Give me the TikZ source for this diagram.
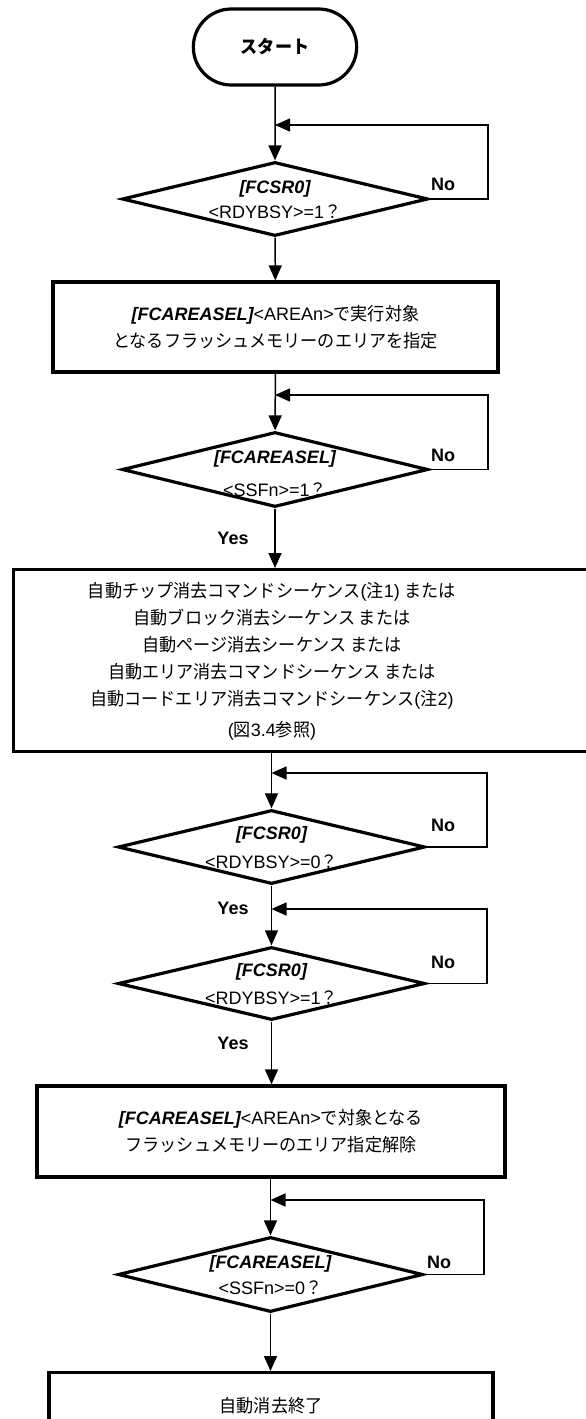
\documentclass[tikz,border=0pt]{standalone}
\usepackage{fontspec}
\setmainfont{Liberation Sans}
\newfontfamily\jp{Noto Sans CJK JP}[Scale=1.0,FakeStretch=0.95]
\usetikzlibrary{shapes.geometric,shapes.misc,arrows.meta}
\newcommand\J[1]{{\jp #1}}
\newcommand\BI[1]{{\bfseries\itshape #1}}
\newcommand\dtext[4]{\makebox[0pt]{\smash{\raisebox{\dimexpr#3-6.5pt\relax}{#1}}}\makebox[0pt]{\smash{\raisebox{\dimexpr-#4-6.5pt\relax}{#2}}}}
\begin{document}
\begin{tikzpicture}[x=1pt,y=-1pt,
  font=\fontsize{18}{22}\selectfont,
  shapeline/.style={draw, line width=3.2pt},
  term/.style={shapeline, rounded rectangle, minimum width=170pt, minimum height=76pt},
  decision/.style={shapeline, diamond, inner sep=0pt, minimum width=306pt, minimum height=74pt},
  procbox/.style={shapeline, rectangle, align=center, inner sep=0pt},
  flow/.style={line width=1.5pt, -{Triangle[length=15pt,width=13pt]}},
  lbl/.style={font=\fontsize{18}{22}\selectfont\bfseries, inner sep=0pt}
]
\useasboundingbox (0,0) rectangle (586,1419);
\clip (0,0) rectangle (586,1419);

% shapes
\node[term] (start) at (275,47) {\J{\bfseries スタート}};
\node[decision] (d1) at (275,199) {\dtext{\BI{[FCSR0]}}{<RDYBSY>=1\J{？}}{12pt}{13pt}};
\node[procbox, minimum width=445pt, minimum height=90pt, font=\fontsize{18}{27}\selectfont] (box1) at (275.5,327)
  {\BI{[FCAREASEL]}<AREAn>\J{で実行対象}\\ \J{となるフラッシュメモリーのエリアを指定}};
\node[decision, minimum height=75pt] (d2) at (275,469.5) {\dtext{\BI{[FCAREASEL]}}{<SSFn>=1\J{？}}{12.5pt}{20.5pt}};
\node[shapeline, anchor=north west, minimum width=600pt, minimum height=182pt, inner sep=0pt] (seqbox) at (12,568) {};
\node[align=center, inner sep=0pt, font=\fontsize{18}{27}\selectfont] (seq) at (272,661)
  {\J{自動チップ消去コマンドシーケンス}(\J{注}1) \J{または}\\
   \J{自動ブロック消去シーケンス または}\\
   \J{自動ページ消去シーケンス または}\\
   \J{自動エリア消去コマンドシーケンス または}\\
   \J{自動コードエリア消去コマンドシーケンス}(\J{注}2)\\[4pt]
   (\J{図}3.4\J{参照})};
\node[decision, minimum width=307pt] (d3) at (271.5,847) {\dtext{\BI{[FCSR0]}}{<RDYBSY>=0\J{？}}{14pt}{15pt}};
\node[decision, minimum width=307pt, minimum height=73pt] (d4) at (271.5,983.5) {\dtext{\BI{[FCSR0]}}{<RDYBSY>=1\J{？}}{13.5pt}{14.5pt}};
\node[procbox, minimum width=468pt, minimum height=91pt, font=\fontsize{18}{27}\selectfont] (box3) at (271,1131.5)
  {\BI{[FCAREASEL]}<AREAn>\J{で対象となる}\\ \J{フラッシュメモリーのエリア指定解除}};
\node[decision, minimum width=305pt, minimum height=75pt] (d5) at (270.5,1274.5) {\dtext{\BI{[FCAREASEL]}}{<SSFn>=0\J{？}}{12.5pt}{13.5pt}};
\node[procbox, anchor=north, minimum width=444pt, minimum height=72pt] (box4) at (271,1371) {\raisebox{8pt}{\J{自動消去終了}}};

% main flow
\draw[flow] (start) -- (d1);
\draw[flow] (d1) -- (box1);
\draw[flow] (box1) -- (d2);
\draw[flow] (d2.south) -- (d2.south |- seqbox.north);
\draw[flow] (seqbox.south -| d3.north) -- (d3.north);
\draw[flow] (d3) -- (d4);
\draw[flow] (d4.south) -- (d4.south |- box3.north);
\draw[flow] (box3.south -| d5.north) -- (d5.north);
\draw[flow] (d5.south) -- (d5.south |- box4.north);

% loops
\coordinate (c1) at (488,125);
\coordinate (c2) at (488,395);
\coordinate (c3) at (487,773);
\coordinate (c4) at (487,909);
\coordinate (c5) at (484,1200);
\draw[flow] (d1.east) -| (c1) -- (c1 -| d1.north);
\draw[flow] (d2.east) -| (c2) -- (c2 -| d2.north);
\draw[flow] (d3.east) -| (c3) -- (c3 -| d3.north);
\draw[flow] (d4.east) -| (c4) -- (c4 -| d4.north);
\draw[flow] (d5.east) -| (c5) -- (c5 -| d5.north);

% labels
\node[lbl] (no1) at (443,184) {No};
\node[lbl] (no2) at (443,455) {No};
\node[lbl] (no3) at (443,825) {No};
\node[lbl] (no4) at (443,962) {No};
\node[lbl] (no5) at (439,1262) {No};
\node[lbl] (yes2) at (233,538) {Yes};
\node[lbl] (yes3) at (233,908) {Yes};
\node[lbl] (yes4) at (233,1043) {Yes};
\end{tikzpicture}
\end{document}
